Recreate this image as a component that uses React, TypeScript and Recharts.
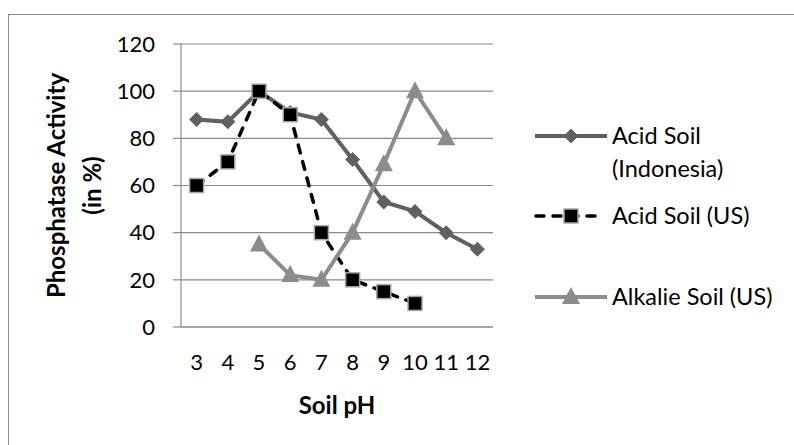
import React from "react";
import {
  LineChart,
  Line,
  XAxis,
  YAxis,
  CartesianGrid,
  Legend,
} from "recharts";

// Soil pH categories
const phValues = [3, 4, 5, 6, 7, 8, 9, 10, 11, 12];

// Phosphatase activity (in %) per series, null where not measured
const acidIndonesia = [88, 87, 100, 91, 88, 71, 53, 49, 40, 33];
const acidUS = [60, 70, 100, 90, 40, 20, 15, 10, null, null];
const alkalieUS = [null, null, 35, 22, 20, 40, 69, 100, 80, null];

const yTicks = [0, 20, 40, 60, 80, 100, 120];

const FONT = "Lato, 'Liberation Sans', sans-serif";
const GRID = "#8a8a8a";
const LEGEND_W = 265;

const chartData = phValues.map((ph, i) => ({
  ph,
  acidIndonesia: acidIndonesia[i],
  acidUS: acidUS[i],
  alkalieUS: alkalieUS[i],
}));

const Diamond = ({ cx, cy }: any) => {
  if (cx == null || cy == null) return null;
  const r = 7.5;
  return (
    <path
      d={`M${cx},${cy - r} L${cx + r},${cy} L${cx},${cy + r} L${cx - r},${cy} Z`}
      fill="#606060"
    />
  );
};

const Square = ({ cx, cy }: any) => {
  if (cx == null || cy == null) return null;
  const s = 7;
  return (
    <rect
      x={cx - s}
      y={cy - s}
      width={s * 2}
      height={s * 2}
      fill="#000"
      stroke="#a8a8a8"
      strokeWidth={1.5}
    />
  );
};

const Triangle = ({ cx, cy }: any) => {
  if (cx == null || cy == null) return null;
  const w = 9;
  return (
    <path
      d={`M${cx},${cy - 10} L${cx + w},${cy + 7} L${cx - w},${cy + 7} Z`}
      fill="#8c8c8c"
    />
  );
};

// Custom legend, placed to the right of the plot
const LegendBox = () => (
  <svg width={LEGEND_W} height={220} style={{ overflow: "visible", display: "block" }}>
    <g fontFamily={FONT} fontSize={23.5} fill="#000">
      <line x1={5} y1={36} x2={77} y2={36} stroke="#606060" strokeWidth={4} />
      <Diamond cx={41} cy={36} />
      <text x={82} y={44}>Acid Soil</text>
      <text x={82} y={77}>(Indonesia)</text>

      <line
        x1={6}
        y1={116}
        x2={72}
        y2={116}
        stroke="#000"
        strokeWidth={3.5}
        strokeDasharray="8 9"
        strokeLinecap="round"
      />
      <Square cx={41} cy={116} />
      <text x={82} y={124}>Acid Soil (US)</text>

      <line x1={5} y1={197} x2={77} y2={197} stroke="#8c8c8c" strokeWidth={4} />
      <Triangle cx={41} cy={197} />
      <text x={82} y={205}>Alkalie Soil (US)</text>
    </g>
  </svg>
);

const YTitle = ({ viewBox }: any) => {
  const cy = viewBox.y + viewBox.height / 2;
  return (
    <g fontFamily={FONT} fontSize={24} fontWeight="bold" fill="#000">
      <text x={0} y={0} textAnchor="middle" transform={`translate(56,${cy}) rotate(-90)`}>
        Phosphatase Activity
      </text>
      <text x={0} y={0} textAnchor="middle" transform={`translate(92,${cy}) rotate(-90)`}>
        (in %)
      </text>
    </g>
  );
};

const XTitle = ({ viewBox }: any) => {
  const cx = viewBox.x + viewBox.width / 2;
  return (
    <text
      x={cx}
      y={399}
      textAnchor="middle"
      fontFamily={FONT}
      fontSize={24}
      fontWeight="bold"
      fill="#000"
    >
      Soil pH
    </text>
  );
};

export default function App() {
  return (
    <div
      style={{
        position: "absolute",
        left: 8,
        top: 14,
        width: 800,
        height: 450,
        border: `1px solid ${GRID}`,
        background: "#fff",
      }}
    >
      <LineChart
        width={785}
        height={430}
        data={chartData}
        margin={{ top: 29, right: 301 - LEGEND_W, bottom: 28, left: 0 }}
      >
        <CartesianGrid vertical={false} stroke={GRID} strokeWidth={1.2} />
        <XAxis
          dataKey="ph"
          type="category"
          height={90}
          padding={{ left: 15.6, right: 15.6 }}
          tickLine={false}
          tickSize={0}
          tickMargin={27}
          axisLine={{ stroke: GRID, strokeWidth: 1.2 }}
          tick={{ fill: "#000", fontSize: 22, fontFamily: FONT }}
          interval={0}
          label={<XTitle />}
        />
        <YAxis
          domain={[0, 120]}
          ticks={yTicks}
          width={172}
          tickSize={8}
          tickMargin={18}
          tickLine={{ stroke: GRID, strokeWidth: 1.2 }}
          axisLine={{ stroke: GRID, strokeWidth: 1.2 }}
          tick={{ fill: "#000", fontSize: 22, fontFamily: FONT }}
          label={<YTitle />}
        />
        <Legend
          layout="vertical"
          align="right"
          verticalAlign="middle"
          content={() => <LegendBox />}
          wrapperStyle={{ position: "absolute", left: 521, top: 85, width: LEGEND_W }}
        />
        <Line
          dataKey="acidIndonesia"
          name="Acid Soil (Indonesia)"
          stroke="#606060"
          strokeWidth={4}
          dot={<Diamond />}
          activeDot={false}
          isAnimationActive={false}
        />
        <Line
          dataKey="acidUS"
          name="Acid Soil (US)"
          stroke="#000"
          strokeWidth={3.5}
          strokeDasharray="8 9"
          strokeLinecap="round"
          dot={<Square />}
          activeDot={false}
          isAnimationActive={false}
        />
        <Line
          dataKey="alkalieUS"
          name="Alkalie Soil (US)"
          stroke="#8c8c8c"
          strokeWidth={4}
          dot={<Triangle />}
          activeDot={false}
          isAnimationActive={false}
        />
      </LineChart>
    </div>
  );
}
